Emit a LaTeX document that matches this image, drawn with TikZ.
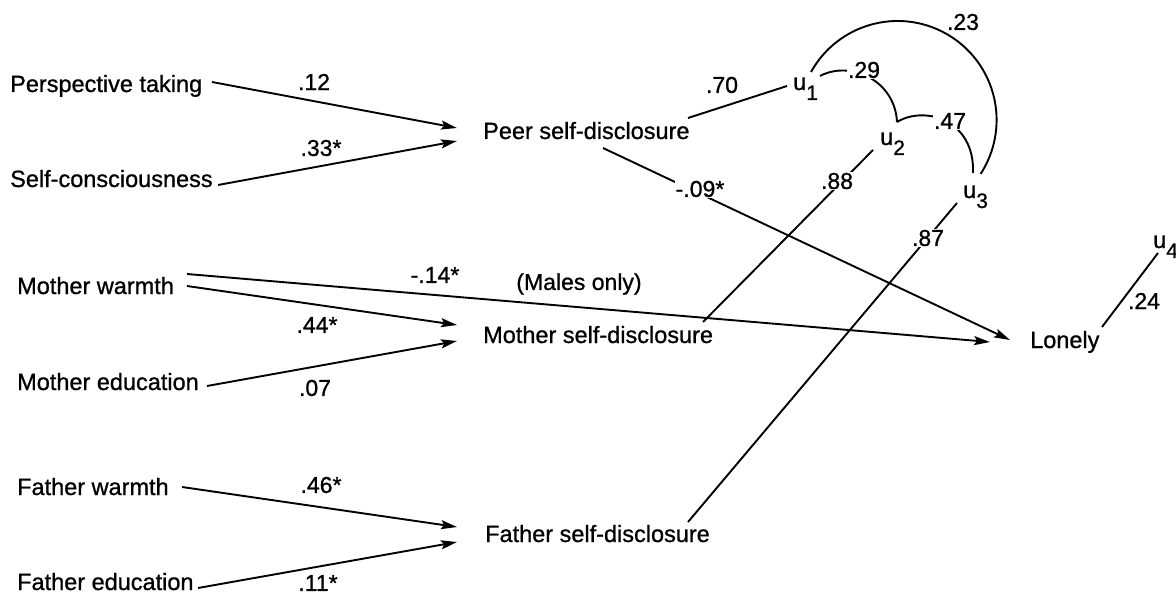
\documentclass[tikz,border=0pt]{standalone}
\usepackage{fontspec}
\setmainfont[FakeBold=0.9]{Liberation Sans}
\usetikzlibrary{arrows.meta}
\newcommand\subidx[1]{\raisebox{-10pt}{\fontsize{21}{21}\selectfont #1}}
\begin{document}
\begin{tikzpicture}[x=1pt,y=-1pt,
  every node/.style={inner sep=0pt, font=\fontsize{23.5}{28}\selectfont},
  var/.style={anchor=base west, text height=17pt, text depth=5pt},
  coef/.style={anchor=center, font=\fontsize{23}{26}\selectfont},
  cut/.style={coef, fill=white, inner sep=1pt},
  link/.style={line width=1.9pt},
  arr/.style={line width=1.9pt, -{Stealth[length=16pt,width=9pt,inset=3pt]}}]
\useasboundingbox (0,0) rectangle (1176,599);

% variables
\node[var] (pt) at (10,92) {Perspective taking};
\node[var] (sc) at (10,187) {Self-consciousness};
\node[var] (mw) at (17,294) {Mother warmth};
\node[var] (me) at (17,390) {Mother education};
\node[var] (fw) at (17,495) {Father warmth};
\node[var] (fe) at (17,590) {Father education};
\node[var] (peer) at (483,139) {Peer self-disclosure};
\node[var] (msd) at (483,343) {Mother self-disclosure};
\node[var] (fsd) at (485,542) {Father self-disclosure};
\node[var] (lonely) at (1030,348) {Lonely};
\node[var] (u1) at (793,90) {u\subidx{1}};
\node[var] (u2) at (880,145) {u\subidx{2}};
\node[var] (u3) at (963,198) {u\subidx{3}};
\node[var] (u4) at (1153,248) {u\subidx{4}};

% connector ends
\coordinate (pt-o) at (212,82);
\coordinate (sc-o) at (218,185);
\coordinate (peer-i1) at (457,128);
\coordinate (peer-i2) at (457,141);
\coordinate (mw-o1) at (187,274);
\coordinate (mw-o2) at (187,286);
\coordinate (me-o) at (207,386);
\coordinate (msd-i1) at (457,325);
\coordinate (msd-i2) at (457,341);
\coordinate (fw-o) at (182,487);
\coordinate (fe-o) at (198,588);
\coordinate (fsd-i1) at (457,527);
\coordinate (fsd-i2) at (457,542);
\coordinate (lonely-i1) at (990,342);
\coordinate (lonely-i2) at (1010,340);
\coordinate (peer-o1) at (688,118);
\coordinate (peer-o2) at (603,148);
\coordinate (msd-o) at (703,322);
\coordinate (fsd-o) at (688,522);
\coordinate (lonely-o) at (1102,327);
\coordinate (u1-a) at (787,86);
\coordinate (u2-a) at (873,150);
\coordinate (u3-a) at (957,203);
\coordinate (u4-a) at (1158,253);
\coordinate (u1-b) at (811,72);
\coordinate (u1-c) at (820,76);
\coordinate (u3-c) at (973,173);
\coordinate (cusp) at (897,122);

% paths
\draw[arr] (pt-o) -- (peer-i1);
\draw[arr] (sc-o) -- (peer-i2);
\draw[arr] (mw-o1) -- (lonely-i1);
\draw[arr] (mw-o2) -- (msd-i1);
\draw[arr] (me-o) -- (msd-i2);
\draw[arr] (fw-o) -- (fsd-i1);
\draw[arr] (fe-o) -- (fsd-i2);
\draw[arr] (peer-o2) -- (lonely-i2);
\draw[link] (peer-o1) -- (u1-a);
\draw[link] (msd-o) -- (u2-a);
\draw[link] (fsd-o) -- (u3-a);
\draw[link] (lonely-o) -- (u4-a);
\draw[link] (u1-b) arc[start angle=-151, end angle=33, radius=99];
\draw[link] (u1-c) .. controls (850,60) and (895,80) .. (cusp);
\draw[link] (cusp) .. controls (925,105) and (975,120) .. (u3-c);

% coefficients
\node[coef] (c12) at (314,82) {.12};
\node[coef] (c33) at (321,148) {.33*};
\node[coef] (c70) at (722,85) {.70};
\node[cut] (c29) at (864,70) {.29};
\node[coef] (c23) at (963,22) {.23};
\node[cut] (c47) at (950,121) {.47};
\node[cut] (c88) at (837,181) {.88};
\node[cut] (c87) at (928,238) {.87};
\node[cut] (c09) at (700,189) {-.09*};
\node[coef] (c14) at (435,275) {-.14*};
\node[coef] (males) at (579,284) {(Males only)};
\node[coef] (c44) at (317,325) {.44*};
\node[coef] (c07) at (315,388) {.07};
\node[coef] (c24) at (1144,301) {.24};
\node[coef] (c46) at (321,485) {.46*};
\node[coef] (c11) at (318,583) {.11*};
\end{tikzpicture}
\end{document}
